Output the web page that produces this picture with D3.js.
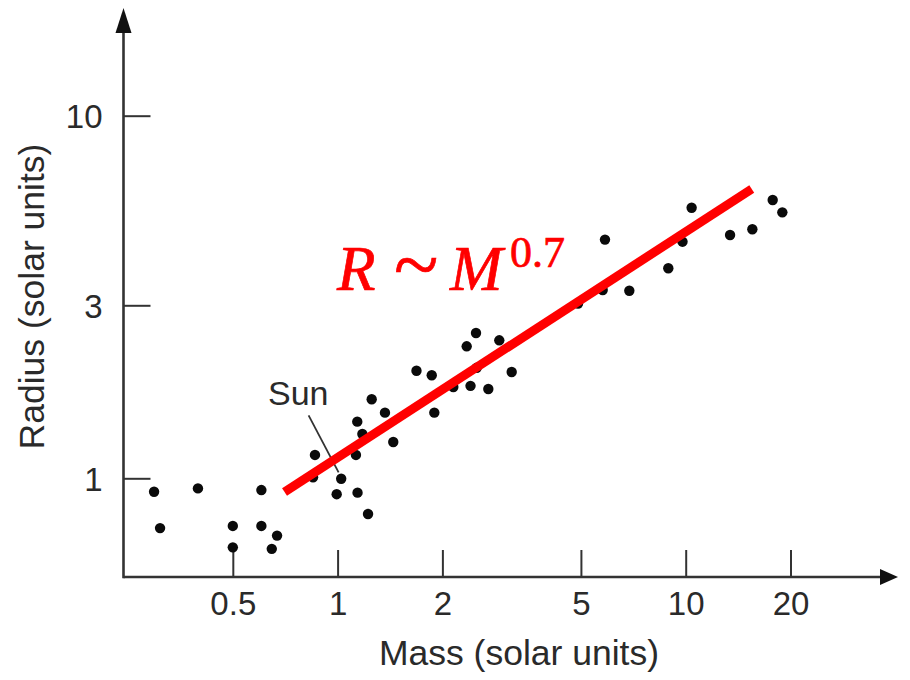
<!DOCTYPE html>
<html>
<head>
<meta charset="utf-8">
<script src="https://cdn.jsdelivr.net/npm/d3@7"></script>
<style>
  html, body { margin: 0; padding: 0; background: #fff; }
  svg { display: block; }
</style>
</head>
<body>
<svg id="chart" width="910" height="680"></svg>
<script>
// ---- data ----
const starMass = [
  0.297, 0.397, 0.604, 0.309, 0.500, 0.604, 0.670, 0.500, 0.647,
  0.861, 0.850, 1.024, 0.994, 1.141, 1.223, 1.129, 1.178, 1.139,
  1.253, 1.368, 1.445, 1.685, 1.864, 1.896, 2.150, 2.409, 2.710,
  2.509, 2.349, 2.498, 2.914, 3.163, 4.905, 5.775, 6.887, 5.863,
  8.913, 9.790, 10.40, 13.41, 15.54, 17.78, 18.95
];
const starRadius = [
  0.918, 0.938, 0.928, 0.729, 0.739, 0.739, 0.695, 0.645, 0.639,
  1.160, 1.006, 0.997, 0.904, 0.913, 0.797, 1.160, 1.325, 1.433,
  1.652, 1.517, 1.259, 1.980, 1.924, 1.517, 1.786, 1.799, 1.763,
  2.017, 2.312, 2.516, 2.402, 1.964, 3.034, 3.306, 3.291, 4.553,
  3.795, 4.493, 5.575, 4.688, 4.861, 5.854, 5.414
];
const fitMass = [0.704, 15.48];
const fitRadius = [0.917, 6.28];
const sunMass = 1.0, sunRadius = 1.0;
const xTicks = [0.5, 1, 2, 5, 10, 20];
const yTicks = [1, 3, 10];
const xTitle = "Mass (solar units)";
const yTitle = "Radius (solar units)";
const sunLabel = "Sun";

// ---- layout ----
const svg = d3.select("#chart");
const axisX0 = 123.5;   // y-axis position
const axisY0 = 577;     // x-axis position
const axisColor = "#333";
const textColor = "#2a2a2a";

const x = d3.scaleLog().domain([1, 10]).range([337.6, 685.7]);
const y = d3.scaleLog().domain([1, 10]).range([478.3, 115.7]);

// ---- axes ----
const xAxis = d3.axisBottom(x)
  .tickValues(xTicks)
  .tickFormat(d => String(d))
  .tickSizeInner(-27)
  .tickSizeOuter(0)
  .tickPadding(15);

const gx = svg.append("g")
  .attr("transform", `translate(0,${axisY0})`)
  .call(xAxis);
gx.select(".domain").remove();
gx.selectAll(".tick line").attr("stroke", axisColor).attr("stroke-width", 2);
gx.selectAll(".tick text")
  .attr("fill", textColor)
  .style("font-family", "'Liberation Sans', Arial, sans-serif")
  .style("font-size", "33px");

const yAxis = d3.axisLeft(y)
  .tickValues(yTicks)
  .tickFormat(d => String(d))
  .tickSizeInner(-27)
  .tickSizeOuter(0)
  .tickPadding(21);

const gy = svg.append("g")
  .attr("transform", `translate(${axisX0},0)`)
  .call(yAxis);
gy.select(".domain").remove();
gy.selectAll(".tick line").attr("stroke", axisColor).attr("stroke-width", 2);
gy.selectAll(".tick text")
  .attr("fill", textColor)
  .attr("dy", "0.36em")
  .style("font-family", "'Liberation Sans', Arial, sans-serif")
  .style("font-size", "33px");

// axis lines with arrow heads
svg.append("line")
  .attr("x1", axisX0).attr("x2", 884)
  .attr("y1", axisY0).attr("y2", axisY0)
  .attr("stroke", axisColor).attr("stroke-width", 2.6);
svg.append("path")
  .attr("d", `M${880},${axisY0 - 8} L${898},${axisY0} L${880},${axisY0 + 8} Z`)
  .attr("fill", "#111");

svg.append("line")
  .attr("x1", axisX0).attr("x2", axisX0)
  .attr("y1", axisY0 + 1.3).attr("y2", 30)
  .attr("stroke", axisColor).attr("stroke-width", 2.6);
svg.append("path")
  .attr("d", `M${axisX0 - 8},${33} L${axisX0},${8} L${axisX0 + 8},${33} Z`)
  .attr("fill", "#111");

// axis titles
svg.append("text")
  .attr("x", 519).attr("y", 665)
  .attr("text-anchor", "middle")
  .attr("fill", textColor)
  .style("font-family", "'Liberation Sans', Arial, sans-serif")
  .style("font-size", "35.5px")
  .text(xTitle);

svg.append("text")
  .attr("transform", "translate(44,296.5) rotate(-90)")
  .attr("text-anchor", "middle")
  .attr("fill", textColor)
  .style("font-family", "'Liberation Sans', Arial, sans-serif")
  .style("font-size", "35.5px")
  .text(yTitle);

// ---- data points ----
svg.append("g")
  .selectAll("circle")
  .data(starMass.map((m, i) => ({ m, r: starRadius[i] })))
  .join("circle")
  .attr("cx", d => x(d.m))
  .attr("cy", d => y(d.r))
  .attr("r", 5.2)
  .attr("fill", "#0a0a0a");

// Sun annotation
svg.append("line")
  .attr("x1", x(sunMass) - 29).attr("y1", y(sunRadius) - 63)
  .attr("x2", x(sunMass) + 1).attr("y2", y(sunRadius) - 6)
  .attr("stroke", "#333").attr("stroke-width", 1.8);
svg.append("text")
  .attr("x", 268).attr("y", 405)
  .attr("fill", textColor)
  .style("font-family", "'Liberation Sans', Arial, sans-serif")
  .style("font-size", "34px")
  .text(sunLabel);

// ---- fit line ----
svg.append("line")
  .attr("x1", x(fitMass[0])).attr("y1", y(fitRadius[0]))
  .attr("x2", x(fitMass[1])).attr("y2", y(fitRadius[1]))
  .attr("stroke", "#ff0000").attr("stroke-width", 9);

// ---- formula ----
const f = svg.append("text")
  .attr("fill", "#ff0000")
  .attr("stroke", "#ff0000")
  .attr("stroke-width", 0.7)
  .style("font-family", "'Liberation Serif', 'Times New Roman', serif");
f.append("tspan").attr("x", 337).attr("y", 290)
  .style("font-style", "italic").style("font-size", "63px").text("R");
f.append("tspan").attr("x", 394).attr("y", 292)
  .style("font-size", "82px").text("~");
f.append("tspan").attr("x", 450).attr("y", 290)
  .style("font-style", "italic").style("font-size", "63px").text("M");
f.append("tspan").attr("x", 510).attr("y", 267)
  .style("font-size", "44px").text("0.7");
</script>
</body>
</html>
